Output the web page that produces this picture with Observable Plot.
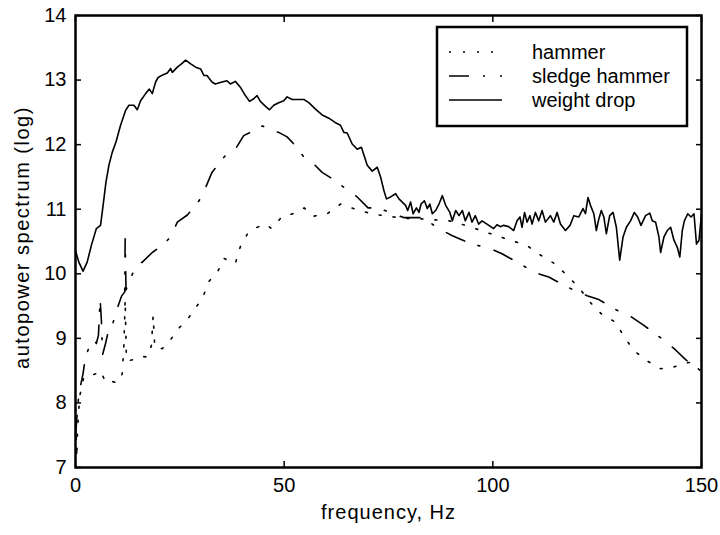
<!DOCTYPE html>
<html><head><meta charset="utf-8">
<script src="https://cdn.jsdelivr.net/npm/d3@7"></script>
<script src="https://cdn.jsdelivr.net/npm/@observablehq/plot@0.6"></script>
<style>
body{margin:0;background:#fff;}
#wrap{position:relative;width:720px;height:535px;font-family:"Liberation Sans",Arial,sans-serif;}
#legend{position:absolute;left:0;top:0;pointer-events:none;}
</style></head><body><div id="wrap"></div>
<script>
const xTicks = [0, 50, 100, 150];
const yTicks = [7, 8, 9, 10, 11, 12, 13, 14];
const seriesNames = ["hammer", "sledge hammer", "weight drop"];
const xLabel = "frequency, Hz";
const yLabel = "autopower spectrum (log)";

// [frequency Hz, log autopower]
const hammer = [
  [0,7.9],[0.3,7.15],[0.5,7.6],[1.0,8.1],[2.0,8.4],[3.6,8.42],[4.8,8.45],[6.0,8.5],[7.2,8.32],[8.4,8.34],
  [10.0,8.31],[11.2,8.45],[11.6,8.9],[11.9,9.6],[12.2,8.66],[13.2,8.66],[14.4,8.68],[16.0,8.72],[17.2,8.71],
  [18.2,8.89],[18.6,9.35],[19.0,8.86],[20.8,8.84],[22.9,8.99],[24.8,9.16],[26.8,9.29],[28.8,9.48],[30.4,9.61],
  [31.8,9.87],[34.2,10.05],[35.5,10.24],[38.3,10.16],[39.5,10.42],[41.4,10.64],[43.1,10.71],[45.5,10.77],
  [47.0,10.70],[49.4,10.88],[52.6,10.94],[54.8,11.02],[56.9,10.89],[60.3,10.93],[63.5,11.08],[67.1,11.0],
  [70.9,10.93],[74.9,10.89],[78.7,10.86],[82.7,10.85],[89.5,10.82],[93.5,10.75],[99.0,10.63],[104.2,10.52],
  [108.1,10.44],[111.4,10.29],[115.0,10.15],[118.0,9.96],[120.6,9.79],[123.0,9.58],[126.0,9.38],[129.4,9.25],
  [131.4,9.03],[133.8,8.81],[137.0,8.65],[140.2,8.53],[143.0,8.55],[146.5,8.62],[150,8.66]
];
const sledgeHammer = [
  [0,7.5],[0.5,7.9],[0.8,8.14],[1.8,8.45],[2.4,8.72],[3.2,8.85],[4.0,8.89],[4.5,8.98],[5.0,8.92],[5.5,9.05],
  [5.9,9.61],[6.2,9.28],[6.5,8.75],[7.2,8.92],[8.0,9.15],[8.8,9.2],[10.0,9.46],[11.0,9.65],[11.8,9.72],
  [11.9,10.54],[12.1,9.75],[13.2,9.92],[14.4,10.13],[16.0,10.18],[18.4,10.33],[20.8,10.44],[22.8,10.57],
  [24.4,10.80],[26.8,10.91],[28.4,11.03],[29.6,11.13],[31.2,11.34],[32.7,11.57],[34.3,11.70],[35.9,11.83],
  [38.2,11.92],[40.3,12.14],[41.9,12.19],[43.5,12.26],[44.8,12.29],[46.5,12.23],[48.7,12.19],[50.7,12.12],
  [52.6,11.99],[54.7,11.81],[57.1,11.70],[59.1,11.57],[61.1,11.49],[64.3,11.34],[67.5,11.19],[70.1,11.02],
  [72.3,11.02],[75.5,10.95],[78.6,10.87],[83.4,10.87],[86.7,10.71],[90.3,10.59],[95.0,10.46],[99.0,10.40],
  [102.2,10.31],[106.6,10.15],[110.0,10.02],[113.4,9.95],[118.0,9.79],[122.6,9.66],[125.4,9.60],[129.6,9.44],
  [133.0,9.34],[136.2,9.20],[140.6,8.99],[143.8,8.82],[146.2,8.67],[149.8,8.50],[150,8.5]
];
const weightDrop = [
  [0,10.36],[0.8,10.18],[1.8,10.04],[2.8,10.18],[3.8,10.44],[5.0,10.70],[6.0,10.75],[6.5,11.0],[7.3,11.42],
  [8.0,11.68],[8.8,11.88],[9.7,12.04],[10.8,12.30],[12.0,12.53],[12.8,12.61],[14.0,12.61],[14.8,12.54],
  [15.6,12.68],[16.8,12.79],[17.7,12.86],[18.4,12.79],[19.2,12.97],[19.8,13.04],[20.9,13.08],[22.0,13.11],
  [22.8,13.18],[23.2,13.12],[24.4,13.20],[25.4,13.25],[26.4,13.31],[27.6,13.25],[28.8,13.20],[30.0,13.17],
  [30.8,13.07],[31.5,13.07],[32.7,12.97],[33.5,12.94],[35.1,12.97],[36.3,12.99],[37.1,12.94],[38.3,12.98],
  [39.5,12.89],[40.7,12.76],[41.7,12.67],[42.7,12.71],[43.5,12.76],[44.3,12.67],[45.4,12.60],[46.5,12.54],
  [47.5,12.61],[48.7,12.65],[49.9,12.68],[50.7,12.74],[51.9,12.70],[54.7,12.70],[55.9,12.65],[57.5,12.55],
  [59.1,12.46],[60.7,12.41],[62.3,12.34],[63.5,12.30],[64.3,12.19],[65.1,12.18],[66.3,12.01],[67.5,11.93],
  [68.5,11.96],[69.9,11.68],[71.1,11.59],[72.3,11.65],[73.1,11.50],[73.9,11.29],[74.5,11.16],[75.5,11.19],
  [76.7,11.24],[77.5,11.16],[78.3,11.11],[79.1,11.06],[79.6,10.98],[80.3,11.11],[80.9,10.93],[81.7,11.02],
  [82.3,10.95],[82.8,11.08],[83.6,11.13],[84.3,11.01],[84.9,11.08],[85.5,10.93],[86.3,10.98],[87.1,11.08],
  [87.9,11.21],[88.7,11.06],[89.7,10.95],[90.3,10.82],[91.1,10.98],[91.9,10.90],[92.7,10.98],[93.4,10.82],
  [94.3,10.95],[95.0,10.80],[95.8,10.90],[96.6,10.77],[97.4,10.82],[98.6,10.77],[100.2,10.70],[101.0,10.76],
  [101.8,10.73],[102.6,10.75],[103.8,10.73],[105.0,10.67],[105.8,10.82],[106.5,10.88],[107.0,10.72],
  [107.6,10.95],[108.2,10.80],[108.9,10.90],[109.4,10.77],[110.2,10.95],[111.0,10.82],[111.8,10.98],
  [112.6,10.80],[113.8,10.90],[114.6,10.80],[115.4,10.95],[116.2,10.77],[117.4,10.67],[118.5,10.75],
  [119.4,10.90],[120.6,10.88],[121.6,11.01],[122.2,10.93],[122.8,11.18],[123.4,11.06],[124.2,10.93],
  [124.8,10.67],[125.4,10.85],[126.0,10.98],[126.6,10.88],[127.2,10.62],[128.0,10.90],[128.8,10.95],
  [129.6,10.72],[130.4,10.21],[131.2,10.57],[132.0,10.72],[133.0,10.82],[133.9,10.95],[134.7,10.88],
  [135.5,10.75],[136.6,10.90],[137.6,10.94],[138.2,10.82],[139.0,10.80],[139.8,10.57],[140.2,10.33],
  [141.0,10.57],[141.8,10.67],[142.6,10.72],[143.4,10.52],[144.2,10.41],[144.8,10.26],[145.4,10.67],
  [145.9,10.82],[146.7,10.93],[147.5,10.88],[148.2,10.93],[148.8,10.46],[149.4,10.52],[150.0,10.93]
];

const dashes = ["2,12", "20,14,2,15", null];
const series = [hammer, sledgeHammer, weightDrop];
const toRows = (arr) => arr.map(([f, v]) => ({f, v}));

const font = '"Liberation Sans", Arial, sans-serif';
const fs = 20;
const chart = Plot.plot({
  width: 720, height: 535,
  marginLeft: 75, marginRight: 19, marginTop: 15, marginBottom: 68,
  style: {fontFamily: font, fontSize: fs + "px", color: "#000", background: "#fff"},
  x: {domain: [0, 150]},
  y: {domain: [7, 14]},
  marks: [
    ...series.map((s, i) => Plot.line(toRows(s), {
      x: "f", y: "v", stroke: "#000", strokeWidth: 1.6,
      strokeDasharray: dashes[i], strokeLinejoin: "round"
    })),
    Plot.frame({stroke: "#000", strokeWidth: 2.5}),
    Plot.axisX(xTicks, {anchor: "bottom", tickSize: -6, tickFormat: () => "", label: null, strokeWidth: 1.5}),
    Plot.axisX(xTicks, {anchor: "top", tickSize: -6, tickFormat: () => "", label: null, strokeWidth: 1.5}),
    Plot.axisY(yTicks, {anchor: "left", tickSize: -6, tickFormat: () => "", label: null, strokeWidth: 1.5}),
    Plot.axisY(yTicks, {anchor: "right", tickSize: -6, tickFormat: () => "", label: null, strokeWidth: 1.5}),
    Plot.axisX(xTicks, {anchor: "bottom", tickSize: 0, tickPadding: 10, tickFormat: d => String(d), label: null, fontSize: fs}),
    Plot.axisY(yTicks, {anchor: "left", tickSize: 0, tickPadding: 9, tickFormat: d => String(d), label: null, fontSize: fs}),
    Plot.text([xLabel], {frameAnchor: "bottom", textAnchor: "middle", dy: 51, text: d => d, fontSize: fs, fill: "#000",
      render: (i, s, v, d, c, next) => { const g = next(i, s, v, d, c); g.setAttribute("letter-spacing", "1"); return g; }}),
    Plot.text([yLabel], {frameAnchor: "left", textAnchor: "middle", dx: -53, dy: -4, rotate: -90, text: d => d, fontSize: fs, fill: "#000",
      render: (i, s, v, d, c, next) => { const g = next(i, s, v, d, c); g.setAttribute("letter-spacing", "1.5"); return g; }})
  ]
});
const wrap = document.getElementById("wrap");
wrap.appendChild(chart);

// legend overlay
const ns = "http://www.w3.org/2000/svg";
const lg = document.createElementNS(ns, "svg");
lg.setAttribute("id", "legend");
lg.setAttribute("width", 720); lg.setAttribute("height", 535);
const box = document.createElementNS(ns, "rect");
box.setAttribute("x", 437); box.setAttribute("y", 27);
box.setAttribute("width", 250); box.setAttribute("height", 99);
box.setAttribute("fill", "#fff"); box.setAttribute("stroke", "#000"); box.setAttribute("stroke-width", 2.5);
lg.appendChild(box);
const rowY = [52, 76, 100];
seriesNames.forEach((name, i) => {
  const ln = document.createElementNS(ns, "line");
  ln.setAttribute("x1", 449); ln.setAttribute("x2", 502);
  ln.setAttribute("y1", rowY[i]); ln.setAttribute("y2", rowY[i]);
  ln.setAttribute("stroke", "#000"); ln.setAttribute("stroke-width", 1.6);
  if (dashes[i]) ln.setAttribute("stroke-dasharray", dashes[i]);
  lg.appendChild(ln);
  const t = document.createElementNS(ns, "text");
  t.setAttribute("x", 532); t.setAttribute("y", rowY[i]);
  t.setAttribute("dy", "0.35em");
  t.setAttribute("font-family", font); t.setAttribute("font-size", fs);
  t.textContent = name;
  lg.appendChild(t);
});
wrap.appendChild(lg);
</script></body></html>
